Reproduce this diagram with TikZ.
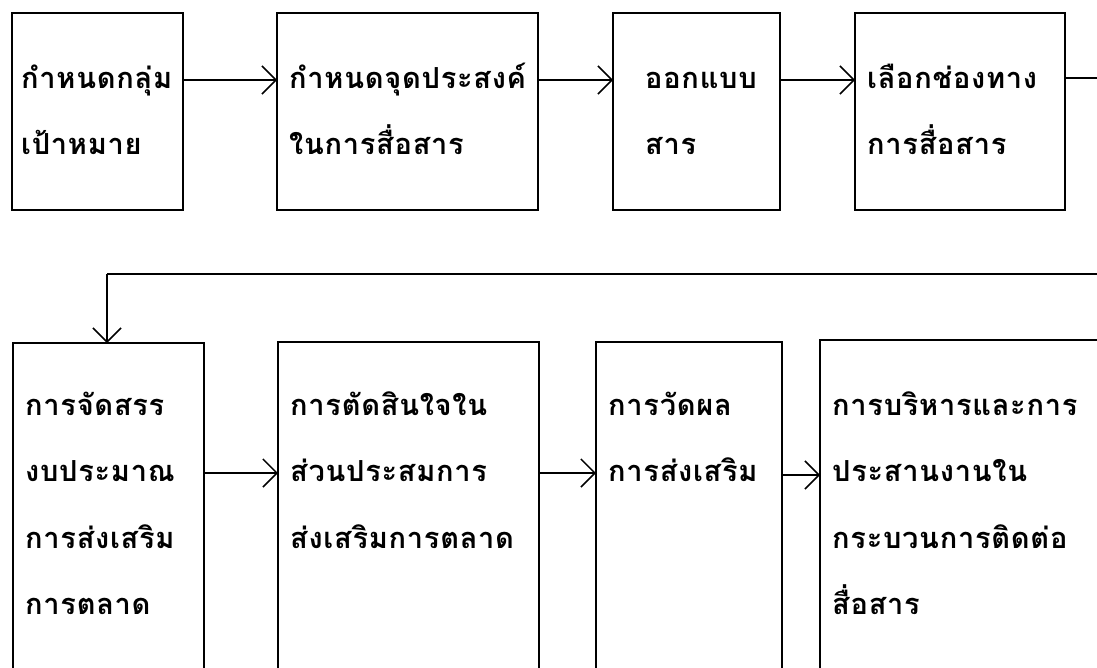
\documentclass[tikz,border=0pt]{standalone}
\usepackage{fontspec}
\newfontfamily\thai[Script=Thai,LetterSpace=2.5]{Loma}
\usetikzlibrary{arrows.meta}
\newcommand\mytl[1]{\vtop{\baselineskip=66.5pt\lineskiplimit=-200pt\halign{##\hfil\cr#1\crcr}}}
\tikzset{
  box/.style={draw, line width=1.8pt, inner sep=0pt, outer sep=0pt, rectangle},
  txt/.style={anchor=base west, inner sep=0pt, font=\thai\bfseries\fontsize{29}{29}\selectfont},
  conn/.style={line width=1.5pt, -{Straight Barb[length=14pt,width=28pt,line width=1.5pt]}},
  plain/.style={line width=1.5pt}
}
\begin{document}
\begin{tikzpicture}[x=1pt,y=-1pt]
\useasboundingbox (0,0) rectangle (1097,667);
% row 1 boxes
\node[box, minimum width=171pt, minimum height=197pt, anchor=north west] (b1) at (12,13) {};
\node[box, minimum width=261pt, minimum height=197pt, anchor=north west] (b2) at (277,13) {};
\node[box, minimum width=167pt, minimum height=197pt, anchor=north west] (b3) at (613,13) {};
\node[box, minimum width=210pt, minimum height=197pt, anchor=north west] (b4) at (855,13) {};
% row 2 boxes (run past the bottom edge)
\begin{scope}
\clip (0,0) rectangle (1097,667);
\node[box, minimum width=191pt, minimum height=360pt, anchor=north west] (b5) at (13,343) {};
\node[box, minimum width=261pt, minimum height=360pt, anchor=north west] (b6) at (278,342) {};
\node[box, minimum width=186pt, minimum height=360pt, anchor=north west] (b7) at (596,342) {};
\node[box, minimum width=320pt, minimum height=360pt, anchor=north west] (b8) at (820,340) {};
\end{scope}
% texts
\node[txt] (t1) at (21,88) {\mytl{กำหนดกลุ่ม\cr เป้าหมาย}};
\node[txt] (t2) at (289,88) {\mytl{กำหนดจุดประสงค์\cr ในการสื่อสาร}};
\node[txt] (t3) at (645,88) {\mytl{ออกแบบ\cr สาร}};
\node[txt] (t4) at (867,88) {\mytl{เลือกช่องทาง\cr การสื่อสาร}};
\node[txt] (t5) at (25,415) {\mytl{การจัดสรร\cr งบประมาณ\cr การส่งเสริม\cr การตลาด}};
\node[txt] (t6) at (290,415) {\mytl{การตัดสินใจใน\cr ส่วนประสมการ\cr ส่งเสริมการตลาด}};
\node[txt] (t7) at (608,415) {\mytl{การวัดผล\cr การส่งเสริม}};
\node[txt] (t8) at (832,415) {\mytl{การบริหารและการ\cr ประสานงานใน\cr กระบวนการติดต่อ\cr สื่อสาร}};
% connectors row 1
\draw[conn] (b1.east |- 0,80) -- (b2.west |- 0,80);
\draw[conn] (b2.east |- 0,80) -- (b3.west |- 0,80);
\draw[conn] (b3.east |- 0,80) -- (b4.west |- 0,80);
% wrap-around connector
\coordinate (e1) at (1097,78);
\coordinate (e2) at (1097,274);
\coordinate (k) at (107,274);
\draw[plain] (b4.east |- e1) -- (e1);
\draw[plain] (e2) -- (k);
\draw[conn] (k) -- (k |- b5.north);
% connectors row 2
\draw[conn] (b5.east |- 0,473) -- (b6.west |- 0,473);
\draw[conn] (b6.east |- 0,473) -- (b7.west |- 0,473);
\draw[conn] (b7.east |- 0,475) -- (b8.west |- 0,475);
\end{tikzpicture}
\end{document}
